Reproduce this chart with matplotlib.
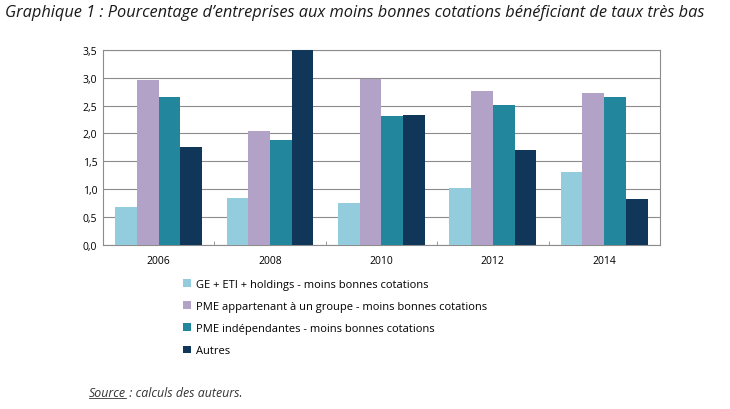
import numpy as np
import matplotlib
matplotlib.use("Agg")
import matplotlib.pyplot as plt
from matplotlib.lines import Line2D

plt.rcParams['font.family'] = ['Open Sans', 'DejaVu Sans']

years = ['2006', '2008', '2010', '2012', '2014']
ge_eti = [0.69, 0.85, 0.76, 1.02, 1.31]
pme_groupe = [2.96, 2.04, 2.97, 2.77, 2.72]
pme_indep = [2.66, 1.89, 2.32, 2.51, 2.65]
autres = [1.75, 3.49, 2.33, 1.71, 0.83]

labels = ['GE + ETI + holdings - moins bonnes cotations',
          'PME appartenant à un groupe - moins bonnes cotations',
          'PME indépendantes - moins bonnes cotations',
          'Autres']
colors = ['#93CDDD', '#B3A2C7', '#22879C', '#10365A']

fig = plt.figure(figsize=(7.3, 4.1), dpi=100)
ax = fig.add_axes([0.141, 0.4, 0.763, 0.476])

x = np.arange(len(years))
w = 0.195
series = [ge_eti, pme_groupe, pme_indep, autres]
bars = []
for i, s in enumerate(series):
    b = ax.bar(x + (i - 1.5) * w, s, width=w, color=colors[i], label=labels[i], zorder=3)
    bars.append(b)

ax.set_xlim(-0.5, len(years) - 0.5)
ax.set_ylim(0, 3.5)
ax.set_yticks(np.arange(0, 3.51, 0.5))
ax.set_yticklabels([f'{v:.1f}'.replace('.', ',') for v in np.arange(0, 3.51, 0.5)], fontsize=7.5)
ax.set_xticks(x)
ax.set_xticklabels(years, fontsize=7.5)
ax.tick_params(axis='x', length=0, pad=7)
ax.tick_params(axis='y', length=0, pad=4)
ax.set_xticks(np.arange(0.5, len(years) - 1, 1), minor=True)
ax.tick_params(axis='x', which='minor', length=3, direction='in', color='#888888')
ax.grid(axis='y', color='#8c8c8c', linewidth=0.8, zorder=0)
for sp in ax.spines.values():
    sp.set_color('#8c8c8c')
    sp.set_linewidth(0.8)

fig.text(0.007, 0.968, 'Graphique 1 : Pourcentage d\u2019entreprises aux moins bonnes cotations bénéficiant de taux très bas',
         fontsize=11.8, style='italic', color='#1a1a1a', va='center')

fig.legend(handles=bars, labels=labels, loc='upper left', bbox_to_anchor=(0.245, 0.328),
           frameon=False, fontsize=8, handlelength=0.7, handleheight=0.7,
           handletextpad=0.4, labelspacing=1.0, borderaxespad=0)

src = fig.text(0.122, 0.041, 'Source', fontsize=8.9, style='italic', color='#333333', va='center')
fig.canvas.draw()
bb = src.get_window_extent().transformed(fig.transFigure.inverted())
fig.text(bb.x1, 0.041, ' : calculs des auteurs.', fontsize=8.9, style='italic', color='#333333', va='center')
fig.add_artist(Line2D([bb.x0, bb.x1], [bb.y0 + 0.002, bb.y0 + 0.002], color='#333333', linewidth=0.6))

fig.savefig('out.png', dpi=100, facecolor='white')
